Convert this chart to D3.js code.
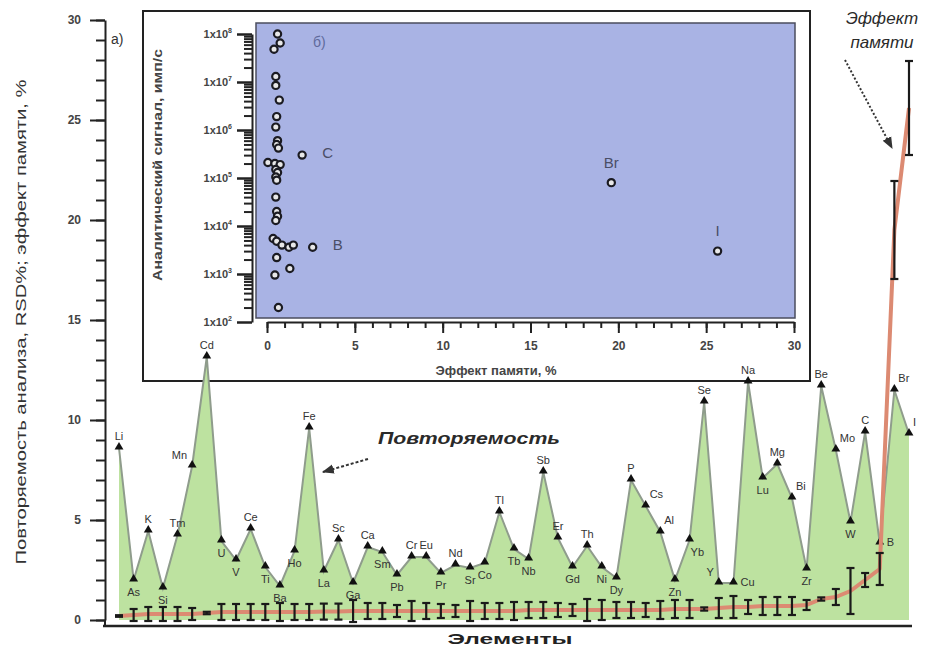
<!DOCTYPE html>
<html>
<head>
<meta charset="utf-8">
<script src="https://cdn.jsdelivr.net/npm/d3@7"></script>
<style>
  body { margin: 0; background: #fff; }
  text { font-family: "Liberation Sans", Arial, sans-serif; }
</style>
</head>
<body>
<svg id="chart" width="932" height="647"></svg>
<script>
// elements in the order they appear on the x axis
var elements = ["Li","As","K","Si","Tm","Mn","Cd","U","V","Ce","Ti","Ba","Ho","Fe","La","Sc","Ga","Ca","Sm","Pb",
                "Cr","Eu","Pr","Nd","Sr","Co","Tl","Tb","Nb","Sb","Er","Gd","Th","Ni","Dy","P","Cs","Al","Zn","Yb",
                "Se","Y","Cu","Na","Lu","Mg","Bi","Zr","Be","Mo","W","C","B","Br","I"];

// repeatability, RSD %
var rsd = [8.6,2.0,4.45,1.6,4.25,7.7,13.15,3.95,3.0,4.55,2.65,1.7,3.45,9.6,2.45,4.0,1.85,3.65,3.4,2.25,
           3.15,3.15,2.35,2.75,2.6,2.85,5.4,3.55,3.05,7.4,4.1,2.65,3.7,2.65,2.1,7.0,5.7,4.4,2.0,4.0,
           10.9,1.85,1.85,11.9,7.1,7.8,6.1,2.55,11.7,8.5,4.9,9.4,3.85,11.5,9.3];

// memory effect, % and its error
var memEffect = [0.2,0.25,0.3,0.3,0.3,0.3,0.35,0.4,0.4,0.4,0.4,0.4,0.4,0.4,0.42,0.42,0.45,0.45,0.45,0.45,
                 0.45,0.45,0.45,0.45,0.45,0.45,0.45,0.45,0.5,0.5,0.5,0.5,0.5,0.5,0.5,0.5,0.5,0.5,0.55,0.55,
                 0.55,0.6,0.65,0.65,0.7,0.7,0.7,0.75,1.05,1.15,1.45,2.0,2.55,19.5,25.6];
var memError = [0.04,0.3,0.35,0.35,0.35,0.3,0.06,0.4,0.4,0.4,0.4,0.45,0.4,0.4,0.4,0.4,0.55,0.4,0.4,0.3,
                0.5,0.4,0.35,0.3,0.5,0.4,0.4,0.45,0.4,0.4,0.35,0.3,0.55,0.5,0.4,0.4,0.35,0.45,0.45,0.45,
                0.08,0.5,0.55,0.35,0.45,0.45,0.45,0.25,0.08,0.4,1.15,0.35,0.8,2.45,2.35];

// label placement around each marker
var labelPlace = ["t","b","t","b","t","tl","t","b","b","t","b","b","b","t","b","t","b","t","b","b",
                  "t","t","b","t","b","b","t","b","b","t","t","b","t","b","b","t","tr","tr","b","br",
                  "t","tl","r","t","b","t","tr","b","t","tr","b","t","r","tr","tr"];

var yTicks = [0,5,10,15,20,25,30];

// inset b): memory effect vs analytical signal
var insetEffect = [0.6,0.75,0.4,0.5,0.5,0.7,0.55,0.5,0.6,0.55,0.65,2.0,0.05,0.45,0.75,0.5,0.6,0.5,0.55,0.5,
                   0.55,0.6,0.5,0.35,0.55,0.85,1.25,1.5,2.6,0.55,0.45,1.3,0.65,19.6,25.65];
var insetSignal = [1.0e8,6.5e7,4.8e7,1.3e7,8.5e6,4.2e6,1.9e6,1.15e6,6.0e5,5.0e5,4.2e5,3.0e5,2.1e5,2.0e5,1.9e5,1.5e5,1.3e5,1.05e5,9.0e4,4.0e4,
                   2.0e4,1.6e4,1.3e4,5.5e3,4.8e3,4.0e3,3.6e3,4.0e3,3.6e3,2.2e3,9.5e2,1.3e3,2.0e2,8.0e4,3.0e3];
var insetNames = ["C","B","Br","I"];
var insetNameEffect = [2.0,2.6,19.6,25.65];
var insetNameSignal = [3.0e5,3.6e3,8.0e4,3.0e3];
var insetXTicks = [0,5,10,15,20,25,30];
var insetYTicks = [1e2,1e3,1e4,1e5,1e6,1e7,1e8];

var svg = d3.select("#chart");

svg.append("defs").append("marker")
    .attr("id", "arrow")
    .attr("viewBox", "0 0 10 10")
    .attr("refX", 9).attr("refY", 5)
    .attr("markerWidth", 6).attr("markerHeight", 6)
    .attr("orient", "auto")
  .append("path")
    .attr("d", "M0,1L10,5L0,9Z")
    .attr("fill", "#333");

////////////////////////////////////////////////
// inset

var inset = svg.append("g");

inset.append("rect")
    .attr("x", 143).attr("y", 11).attr("width", 667).attr("height", 370)
    .attr("fill", "#fff").attr("stroke", "#222").attr("stroke-width", 2);

inset.append("rect")
    .attr("x", 256).attr("y", 23).attr("width", 539).attr("height", 295)
    .attr("fill", "#a9b3e4").attr("stroke", "#4b4d5e").attr("stroke-width", 1.5);

var xIn = d3.scaleLinear().domain([0, 30]).range([267, 794]);
var yIn = d3.scaleLog().domain([1e2, 1e8]).range([322, 34]);

// x axis of inset
inset.append("g")
    .attr("transform", "translate(0,322)")
    .call(d3.axisBottom(xIn).tickValues(d3.range(0, 31, 1)).tickSize(6).tickSizeOuter(0).tickFormat(""))
    .call(g => g.selectAll("line, path").attr("stroke", "#222").attr("stroke-width", 2));

inset.append("g")
    .attr("transform", "translate(0,322)")
    .call(d3.axisBottom(xIn).tickValues(insetXTicks).tickSize(11).tickSizeOuter(0).tickPadding(8))
    .call(g => g.select(".domain").remove())
    .call(g => g.selectAll("line").attr("stroke", "#222").attr("stroke-width", 2))
    .call(g => g.selectAll("text").attr("font-size", 12).attr("font-weight", "bold").attr("fill", "#444").attr("font-family", "Liberation Sans, Arial"));

// y axis of inset (log)
var minorLog = [];
insetYTicks.slice(0, -1).forEach(function(d) {
    for (var k = 2; k < 10; k++) minorLog.push(d * k);
});

inset.append("g")
    .attr("transform", "translate(252,0)")
    .call(d3.axisLeft(yIn).tickValues(minorLog).tickSize(8).tickSizeOuter(0).tickFormat(""))
    .call(g => g.selectAll("line, path").attr("stroke", "#222").attr("stroke-width", 2));

inset.append("g")
    .attr("transform", "translate(252,0)")
    .call(d3.axisLeft(yIn).tickValues(insetYTicks).tickSize(15).tickSizeOuter(0).tickFormat(""))
    .call(g => g.select(".domain").remove())
    .call(g => g.selectAll("line").attr("stroke", "#222").attr("stroke-width", 2.5));

var ylab = inset.selectAll(".ylab")
    .data(insetYTicks)
  .enter().append("text")
    .attr("class", "ylab")
    .attr("x", 232)
    .attr("y", d => yIn(d) + 4)
    .attr("text-anchor", "end")
    .attr("font-size", 11)
    .attr("font-weight", "bold")
    .attr("fill", "#444");
ylab.append("tspan").text("1x10");
ylab.append("tspan").attr("dy", -5).attr("font-size", 7).text(d => Math.round(Math.log10(d)));

inset.append("text")
    .attr("transform", "translate(162,165) rotate(-90)")
    .attr("text-anchor", "middle")
    .attr("font-size", 12)
    .attr("font-weight", "bold")
    .attr("fill", "#444")
    .attr("textLength", 232)
    .attr("lengthAdjust", "spacingAndGlyphs")
    .text("Аналитический сигнал, имп/с");

inset.append("text")
    .attr("x", 496).attr("y", 375)
    .attr("text-anchor", "middle")
    .attr("font-size", 13)
    .attr("font-weight", "bold")
    .attr("fill", "#444")
    .text("Эффект памяти, %");

inset.append("text")
    .attr("x", 313).attr("y", 47)
    .attr("font-size", 14)
    .attr("fill", "#5f6a9c")
    .text("б)");

inset.selectAll(".ipt")
    .data(insetEffect.map((d, i) => [d, insetSignal[i]]))
  .enter().append("circle")
    .attr("class", "ipt")
    .attr("cx", d => xIn(d[0]))
    .attr("cy", d => yIn(d[1]))
    .attr("r", 3.6)
    .attr("fill", "#e8e8e8")
    .attr("stroke", "#1b1b22")
    .attr("stroke-width", 2.2);

var iLabDx = [20, 20, 0, 0];
var iLabDy = [3, 3, -15, -15];
inset.selectAll(".iname")
    .data(insetNames)
  .enter().append("text")
    .attr("class", "iname")
    .attr("x", (d, i) => xIn(insetNameEffect[i]) + iLabDx[i])
    .attr("y", (d, i) => yIn(insetNameSignal[i]) + iLabDy[i])
    .attr("text-anchor", (d, i) => i < 2 ? "start" : "middle")
    .attr("font-size", 15)
    .attr("fill", "#4a4e66")
    .text(d => d);

////////////////////////////////////////////////
// main chart a)

var x = d3.scalePoint().domain(elements).range([119, 909]);
var y = d3.scaleLinear().domain([0, 30]).range([620, 20]);

var data = elements.map(function(el, i) {
    return {el: el, rsd: rsd[i], mem: memEffect[i], err: memError[i], place: labelPlace[i]};
});

var area = d3.area()
    .x(d => x(d.el))
    .y0(y(0))
    .y1(d => y(d.rsd));

svg.append("path")
    .datum(data)
    .attr("d", area)
    .attr("fill", "#bde2a0");

svg.append("path")
    .datum(data)
    .attr("d", d3.line().x(d => x(d.el)).y(d => y(d.rsd)))
    .attr("fill", "none")
    .attr("stroke", "#8f9c8c")
    .attr("stroke-width", 2);

svg.selectAll(".tri")
    .data(data)
  .enter().append("path")
    .attr("class", "tri")
    .attr("transform", d => "translate(" + x(d.el) + "," + (y(d.rsd) - 1) + ")")
    .attr("d", d3.symbol().type(d3.symbolTriangle).size(34))
    .attr("fill", "#111");

var place = {
    t:  [0, -8, "middle"],
    b:  [0, 16, "middle"],
    tl: [-5, -7, "end"],
    tr: [4, -8, "start"],
    br: [1, 16, "start"],
    r:  [7, 3, "start"]
};

svg.selectAll(".elab")
    .data(data)
  .enter().append("text")
    .attr("class", "elab")
    .attr("x", d => x(d.el) + place[d.place][0])
    .attr("y", d => y(d.rsd) + place[d.place][1])
    .attr("text-anchor", d => place[d.place][2])
    .attr("font-size", 11)
    .attr("fill", "#333")
    .text(d => d.el);

// memory effect line with error bars
svg.append("path")
    .datum(data)
    .attr("d", d3.line().x(d => x(d.el)).y(d => y(d.mem)))
    .attr("fill", "none")
    .attr("stroke", "#dc8a72")
    .attr("stroke-width", 4)
    .attr("stroke-linejoin", "round");

var eb = svg.selectAll(".eb")
    .data(data)
  .enter().append("g")
    .attr("class", "eb")
    .attr("stroke", "#1a1a1a")
    .attr("stroke-width", 2.2);
eb.append("line")
    .attr("x1", d => x(d.el)).attr("x2", d => x(d.el))
    .attr("y1", d => y(d.mem + d.err)).attr("y2", d => y(d.mem - d.err));
eb.append("line")
    .attr("x1", d => x(d.el) - 4).attr("x2", d => x(d.el) + 4)
    .attr("y1", d => y(d.mem + d.err)).attr("y2", d => y(d.mem + d.err));
eb.append("line")
    .attr("x1", d => x(d.el) - 4).attr("x2", d => x(d.el) + 4)
    .attr("y1", d => y(d.mem - d.err)).attr("y2", d => y(d.mem - d.err));

// axes
svg.append("g")
    .attr("transform", "translate(105,0)")
    .call(d3.axisLeft(y).tickValues(d3.range(0, 31, 1)).tickSize(9).tickSizeOuter(0).tickFormat(""))
    .call(g => g.selectAll("line, path").attr("stroke", "#222").attr("stroke-width", 2));

svg.append("g")
    .attr("transform", "translate(105,0)")
    .call(d3.axisLeft(y).tickValues(yTicks).tickSize(15).tickSizeOuter(0).tickPadding(9))
    .call(g => g.select(".domain").remove())
    .call(g => g.selectAll("line").attr("stroke", "#222").attr("stroke-width", 2))
    .call(g => g.selectAll("text").attr("font-size", 12).attr("font-weight", "bold").attr("fill", "#444").attr("font-family", "Liberation Sans, Arial"));

svg.append("line")
    .attr("x1", 105).attr("x2", 105).attr("y1", y(0)).attr("y2", 627)
    .attr("stroke", "#222").attr("stroke-width", 2);
svg.append("line")
    .attr("x1", 103).attr("x2", 912).attr("y1", 626).attr("y2", 626)
    .attr("stroke", "#222").attr("stroke-width", 2.5);

svg.append("text")
    .attr("transform", "translate(26,322) rotate(-90)")
    .attr("text-anchor", "middle")
    .attr("font-size", 15)
    .attr("fill", "#333")
    .attr("textLength", 485)
    .attr("lengthAdjust", "spacingAndGlyphs")
    .text("Повторяемость анализа, RSD%; эффект памяти, %");

svg.append("text")
    .attr("x", 510).attr("y", 644)
    .attr("text-anchor", "middle")
    .attr("font-size", 15)
    .attr("font-weight", "bold")
    .attr("fill", "#222")
    .attr("textLength", 125)
    .attr("lengthAdjust", "spacingAndGlyphs")
    .text("Элементы");

svg.append("text")
    .attr("x", 111).attr("y", 44)
    .attr("font-size", 14)
    .attr("fill", "#333")
    .text("а)");

// annotations
svg.append("text")
    .attr("x", 469).attr("y", 444)
    .attr("text-anchor", "middle")
    .attr("font-size", 17)
    .attr("font-style", "italic")
    .attr("font-weight", "bold")
    .attr("fill", "#2a2a2a")
    .attr("textLength", 182)
    .attr("lengthAdjust", "spacingAndGlyphs")
    .text("Повторяемость");

svg.append("line")
    .attr("x1", 368).attr("y1", 459).attr("x2", 323).attr("y2", 472)
    .attr("stroke", "#333").attr("stroke-width", 2)
    .attr("stroke-dasharray", "3,2")
    .attr("marker-end", "url(#arrow)");

svg.append("text")
    .attr("x", 882).attr("y", 24)
    .attr("text-anchor", "middle")
    .attr("font-size", 17)
    .attr("font-style", "italic")
    .attr("fill", "#2a2a2a")
    .text("Эффект");
svg.append("text")
    .attr("x", 882).attr("y", 48)
    .attr("text-anchor", "middle")
    .attr("font-size", 17)
    .attr("font-style", "italic")
    .attr("fill", "#2a2a2a")
    .text("памяти");

svg.append("line")
    .attr("x1", 845).attr("y1", 60).attr("x2", 892).attr("y2", 148)
    .attr("stroke", "#333").attr("stroke-width", 2)
    .attr("stroke-dasharray", "2,2")
    .attr("marker-end", "url(#arrow)");
</script>
</body>
</html>
